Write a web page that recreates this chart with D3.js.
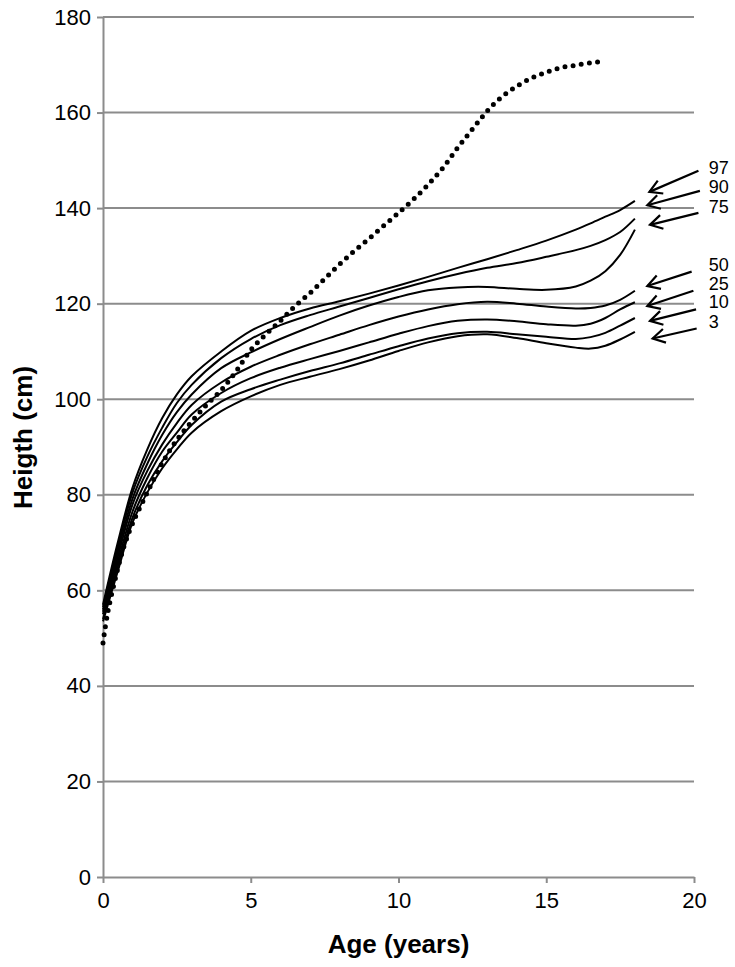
<!DOCTYPE html>
<html>
<head>
<meta charset="utf-8">
<script src="https://cdn.jsdelivr.net/npm/d3@7"></script>
<style>
  body { margin: 0; background: #fff; }
  text { font-family: "Liberation Sans", Arial, sans-serif; fill: #000; }
</style>
</head>
<body>
<svg id="growth-chart" width="735" height="967"></svg>
<script>
// Ages (years) at which the percentile curves are read
const ages = [0, 0.5, 1, 1.5, 2, 2.5, 3, 4, 5, 6, 7, 8, 9, 10, 11, 12, 13, 14, 15, 16, 16.5, 17, 17.5, 18];

// Percentile curves, height in cm at each age above
const p97 = [57, 70, 81.5, 89.5, 96, 101, 104.8, 110, 114.3, 117, 119, 120.5, 122.1, 123.8, 125.6, 127.5, 129.3, 131.2, 133.2, 135.5, 136.8, 138.2, 139.6, 141.5];
const p90 = [56.5, 69, 80.5, 88, 94, 99.2, 103, 108.6, 112.6, 115.5, 117.6, 119.4, 121.2, 123, 124.7, 126.2, 127.5, 128.5, 129.8, 131.2, 132.1, 133.3, 135, 137.8];
const p75 = [56, 68, 79.2, 86.5, 92.5, 97.3, 101, 106.5, 109.8, 112.6, 115.1, 117.5, 119.6, 121.4, 122.8, 123.4, 123.5, 123.1, 122.9, 123.6, 124.8, 126.8, 130.2, 135.5];
const p50 = [55.5, 67, 78, 85, 90.5, 95, 98.8, 103.5, 106.8, 109.3, 111.5, 113.5, 115.5, 117.3, 118.8, 119.9, 120.4, 120, 119.4, 119, 119.1, 119.6, 120.8, 122.7];
const p25 = [55, 66, 76.5, 83.5, 89, 93, 96.8, 101.3, 104.4, 106.6, 108.4, 110.1, 111.9, 113.7, 115.3, 116.4, 116.7, 116.3, 115.7, 115.4, 115.8, 117, 118.8, 120.3];
const p10 = [54, 65, 75.2, 82, 87, 91, 94.6, 99.5, 102.1, 104.1, 105.9, 107.5, 109.3, 111.1, 112.7, 113.8, 114.1, 113.6, 113.1, 112.6, 113, 113.9, 115.4, 117];
const p3 = [53.5, 64, 74.2, 80.5, 85.5, 89.5, 93, 97.5, 100.6, 103, 104.7, 106.3, 108.1, 110.1, 111.9, 113.2, 113.6, 112.8, 111.7, 110.8, 110.6, 111.2, 112.5, 114.1];

const percentileNames = ["97", "90", "75", "50", "25", "10", "3"];
const percentileSeries = [p97, p90, p75, p50, p25, p10, p3];

// The patient's own measurements (dotted line)
const patientAges = [0, 0.15, 0.4, 0.7, 1, 1.5, 2, 2.5, 3, 3.5, 4, 4.5, 5, 5.5, 6, 6.5, 7, 7.5, 8, 8.5, 9, 9.5, 10, 10.5, 11, 11.5, 12, 12.5, 13, 13.5, 14, 14.5, 15, 15.5, 16, 16.5, 16.8];
const patientHeights = [49, 55, 62, 69, 74, 80.5, 86.6, 91.5, 95.3, 98.8, 101.9, 105.8, 110.3, 113.5, 116.4, 119.5, 122.2, 125.2, 128.2, 131, 133.6, 136.3, 139, 141.8, 144.9, 148.4, 152.6, 156.5, 160.3, 163.3, 165.5, 167.2, 168.4, 169.4, 169.9, 170.4, 170.6];

// Arrow annotations pointing at the curve ends (data units)
const arrowStartAge = [20.15, 20.2, 20.15, 19.92, 19.98, 20.07, 20.09];
const arrowStartHeight = [147.8, 143.6, 139.0, 126.7, 122.7, 118.8, 114.8];
const arrowTipAge = [18.49, 18.42, 18.51, 18.42, 18.42, 18.51, 18.6];
const arrowTipHeight = [143.4, 140.6, 136.5, 123.7, 119.5, 116.4, 112.7];
const labelAge = 20.5;
const labelHeight = [148.6, 144.5, 140.4, 128.1, 124.2, 120.4, 116.2];

// Axis ticks
const xTicks = [0, 5, 10, 15, 20];
const yTicks = [0, 20, 40, 60, 80, 100, 120, 140, 160, 180];

// Set up sizing constants
const svgWidth = 735;
const svgHeight = 967;
const margin = {top: 17, right: 41, bottom: 90, left: 103};
const width = svgWidth - margin.left - margin.right;
const height = svgHeight - margin.top - margin.bottom;
const gridColor = "#8c8c8c";

const svg = d3.select("svg#growth-chart");

// Create the scales
const xScale = d3.scaleLinear()
  .domain([0, 20])
  .range([margin.left, margin.left + width]);

const yScale = d3.scaleLinear()
  .domain([0, 180])
  .range([margin.top + height, margin.top]);

// Horizontal gridlines
svg.append("g")
  .selectAll("line.grid")
  .data(yTicks.filter(d => d > 0))
  .enter()
  .append("line")
  .attr("class", "grid")
  .attr("x1", xScale(0))
  .attr("x2", xScale(20))
  .attr("y1", d => yScale(d))
  .attr("y2", d => yScale(d))
  .attr("stroke", gridColor)
  .attr("stroke-width", 2);

// Define the axis functions
const yAxis = d3.axisLeft()
  .scale(yScale)
  .tickValues(yTicks)
  .tickSize(6)
  .tickPadding(6)
  .tickSizeOuter(0);

const xAxis = d3.axisBottom()
  .scale(xScale)
  .tickValues(xTicks)
  .tickSize(6)
  .tickPadding(9)
  .tickSizeOuter(0);

const yAxisG = svg.append("g")
  .attr("id", "yAxisG")
  .attr("transform", "translate(" + margin.left + ",0)")
  .call(yAxis);

const xAxisG = svg.append("g")
  .attr("id", "xAxisG")
  .attr("transform", "translate(0," + (margin.top + height) + ")")
  .call(xAxis);

[yAxisG, xAxisG].forEach(g => {
  g.selectAll("path.domain").attr("stroke", gridColor).attr("stroke-width", 2);
  g.selectAll(".tick line").attr("stroke", gridColor).attr("stroke-width", 2);
  g.selectAll(".tick text")
    .style("font-family", "'Liberation Sans', Arial, sans-serif")
    .style("font-size", "22px")
    .attr("fill", "#000");
});

// Axis titles
svg.append("text")
  .attr("x", xScale(10))
  .attr("y", 953)
  .attr("text-anchor", "middle")
  .style("font-size", "26px")
  .style("font-weight", "bold")
  .text("Age (years)");

svg.append("text")
  .attr("transform", "translate(32," + yScale(92) + ") rotate(-90)")
  .attr("text-anchor", "middle")
  .style("font-size", "26px")
  .style("font-weight", "bold")
  .text("Heigth (cm)");

// Percentile curves
const curveLine = d3.line()
  .x((d, i) => xScale(ages[i]))
  .y(d => yScale(d))
  .curve(d3.curveCatmullRom.alpha(0.5));

svg.append("g")
  .selectAll("path.percentile")
  .data(percentileSeries)
  .enter()
  .append("path")
  .attr("class", "percentile")
  .attr("d", d => curveLine(d))
  .attr("fill", "none")
  .attr("stroke", "#000")
  .attr("stroke-width", 2);

// Patient line, round dots
const patientLine = d3.line()
  .x((d, i) => xScale(patientAges[i]))
  .y(d => yScale(d))
  .curve(d3.curveCatmullRom.alpha(0.5));

svg.append("path")
  .attr("class", "patient")
  .attr("d", patientLine(patientHeights))
  .attr("fill", "none")
  .attr("stroke", "#000")
  .attr("stroke-width", 5)
  .attr("stroke-linecap", "round")
  .attr("stroke-dasharray", "0 8.2");

// Arrows with open heads and percentile labels
const arrows = svg.append("g").attr("class", "arrows");
percentileNames.forEach((name, i) => {
  const x0 = xScale(arrowStartAge[i]);
  const y0 = yScale(arrowStartHeight[i]);
  const x1 = xScale(arrowTipAge[i]);
  const y1 = yScale(arrowTipHeight[i]);
  const angle = Math.atan2(y0 - y1, x0 - x1);
  const headLen = 14;
  const spread = Math.PI / 6;

  arrows.append("line")
    .attr("x1", x0).attr("y1", y0)
    .attr("x2", x1).attr("y2", y1)
    .attr("stroke", "#000")
    .attr("stroke-width", 2.2);

  arrows.append("path")
    .attr("d", "M" + (x1 + headLen * Math.cos(angle - spread)) + "," + (y1 + headLen * Math.sin(angle - spread)) +
      "L" + x1 + "," + y1 +
      "L" + (x1 + headLen * Math.cos(angle + spread)) + "," + (y1 + headLen * Math.sin(angle + spread)))
    .attr("fill", "none")
    .attr("stroke", "#000")
    .attr("stroke-width", 2.2);

  arrows.append("text")
    .attr("x", xScale(labelAge))
    .attr("y", yScale(labelHeight[i]))
    .attr("dy", "0.36em")
    .style("font-size", "18px")
    .text(name);
});
</script>
</body>
</html>
